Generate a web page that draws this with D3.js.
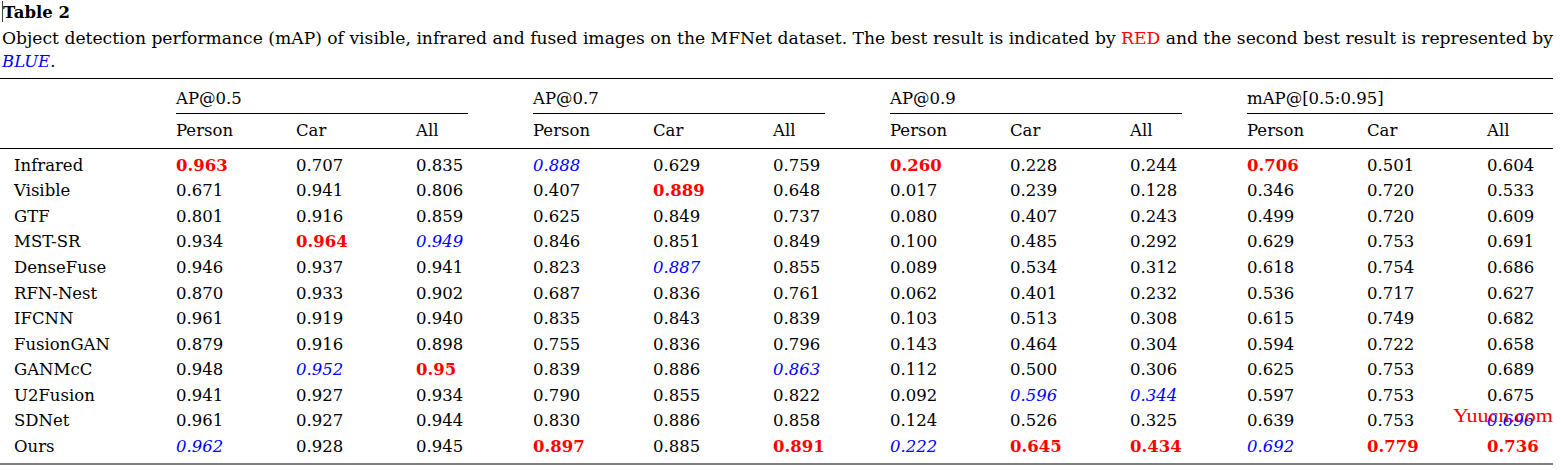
<!DOCTYPE html>
<html>
<head>
<meta charset="utf-8">
<script src="https://cdn.jsdelivr.net/npm/d3@7"></script>
<style>
  body { margin: 0; background: #fff; }
  text { font-family: "DejaVu Serif", serif; }
</style>
</head>
<body>
<div id="chart"></div>
<script>
// table data
var methods = ["Infrared", "Visible", "GTF", "MST-SR", "DenseFuse", "RFN-Nest",
    "IFCNN", "FusionGAN", "GANMcC", "U2Fusion", "SDNet", "Ours"];
var groups = ["AP@0.5", "AP@0.7", "AP@0.9", "mAP@[0.5:0.95]"];
var subCols = ["Person", "Car", "All"];

var ap50 = [
    ["0.963", "0.707", "0.835"], ["0.671", "0.941", "0.806"], ["0.801", "0.916", "0.859"],
    ["0.934", "0.964", "0.949"], ["0.946", "0.937", "0.941"], ["0.870", "0.933", "0.902"],
    ["0.961", "0.919", "0.940"], ["0.879", "0.916", "0.898"], ["0.948", "0.952", "0.95"],
    ["0.941", "0.927", "0.934"], ["0.961", "0.927", "0.944"], ["0.962", "0.928", "0.945"]];
var ap70 = [
    ["0.888", "0.629", "0.759"], ["0.407", "0.889", "0.648"], ["0.625", "0.849", "0.737"],
    ["0.846", "0.851", "0.849"], ["0.823", "0.887", "0.855"], ["0.687", "0.836", "0.761"],
    ["0.835", "0.843", "0.839"], ["0.755", "0.836", "0.796"], ["0.839", "0.886", "0.863"],
    ["0.790", "0.855", "0.822"], ["0.830", "0.886", "0.858"], ["0.897", "0.885", "0.891"]];
var ap90 = [
    ["0.260", "0.228", "0.244"], ["0.017", "0.239", "0.128"], ["0.080", "0.407", "0.243"],
    ["0.100", "0.485", "0.292"], ["0.089", "0.534", "0.312"], ["0.062", "0.401", "0.232"],
    ["0.103", "0.513", "0.308"], ["0.143", "0.464", "0.304"], ["0.112", "0.500", "0.306"],
    ["0.092", "0.596", "0.344"], ["0.124", "0.526", "0.325"], ["0.222", "0.645", "0.434"]];
var mapAll = [
    ["0.706", "0.501", "0.604"], ["0.346", "0.720", "0.533"], ["0.499", "0.720", "0.609"],
    ["0.629", "0.753", "0.691"], ["0.618", "0.754", "0.686"], ["0.536", "0.717", "0.627"],
    ["0.615", "0.749", "0.682"], ["0.594", "0.722", "0.658"], ["0.625", "0.753", "0.689"],
    ["0.597", "0.753", "0.675"], ["0.639", "0.753", "0.696"], ["0.692", "0.779", "0.736"]];

// [group, row, col]
var best = [[0, 0, 0], [0, 3, 1], [0, 8, 2], [1, 1, 1], [1, 11, 0], [1, 11, 2],
    [2, 0, 0], [2, 11, 1], [2, 11, 2], [3, 0, 0], [3, 11, 1], [3, 11, 2]];
var second = [[0, 11, 0], [0, 8, 1], [0, 3, 2], [1, 0, 0], [1, 4, 1], [1, 8, 2],
    [2, 11, 0], [2, 9, 1], [2, 9, 2], [3, 11, 0], [3, 10, 2]];

(function () {
    'use strict';
    var width = 1561,
        height = 470,
        fontSize = 16.5,
        tables = [ap50, ap70, ap90, mapAll],
        svg = d3.select("#chart").append("svg")
            .attr("width", width)
            .attr("height", height);

    var y = d3.scaleBand().domain(methods).range([152.2, 459]),
        gx = d3.scaleBand().domain(groups).range([176, 176 + 4 * 357]),
        sx = d3.scalePoint().domain(subCols).range([0, 240]);

    function key(g, r, c) { return g + "-" + r + "-" + c; }
    var bestSet = new Set(best.map(function (d) { return key(d[0], d[1], d[2]); })),
        secondSet = new Set(second.map(function (d) { return key(d[0], d[1], d[2]); }));

    // text cursor left in the screenshot
    svg.append("line")
        .attr("x1", 2.5).attr("x2", 2.5)
        .attr("y1", 1).attr("y2", 22)
        .style("stroke", "#444")
        .style("stroke-width", 1);

    // title + caption
    svg.append("text")
        .attr("x", 3).attr("y", 18)
        .style("font-size", fontSize + "px")
        .style("font-weight", "bold")
        .text("Table 2");

    var cap = svg.append("text")
        .attr("x", 2).attr("y", 44)
        .attr("textLength", 1551)
        .attr("lengthAdjust", "spacingAndGlyphs")
        .style("font-size", fontSize + "px");
    cap.append("tspan").text("Object detection performance (mAP) of visible, infrared and fused images on the MFNet dataset. The best result is indicated by ");
    cap.append("tspan").style("fill", "#ff0000").text("RED");
    cap.append("tspan").text(" and the second best result is represented by");

    svg.append("text")
        .attr("x", 2).attr("y", 67)
        .style("font-size", fontSize + "px")
        .style("font-style", "italic")
        .style("fill", "#0000ff")
        .text("BLUE")
        .append("tspan").style("fill", "#000").style("font-style", "normal").text(".");

    // rules
    function rule(x1, x2, yy, w) {
        svg.append("line")
            .attr("x1", x1).attr("x2", x2)
            .attr("y1", yy).attr("y2", yy)
            .style("stroke", "#000")
            .style("stroke-width", w);
    }
    rule(0, 1553, 78.5, 1.2);
    rule(0, 1553, 148.5, 1.2);
    rule(0, 1553, 464, 1.2);
    groups.forEach(function (g, i) {
        rule(gx(g), i === groups.length - 1 ? 1553 : gx(g) + 292, 113.5, 1);
    });

    // headers
    var head = svg.selectAll("g.head")
        .data(groups)
        .enter()
        .append("g")
        .attr("transform", function (d) { return "translate(" + gx(d) + ",0)"; });

    head.append("text")
        .attr("y", 104)
        .style("font-size", fontSize + "px")
        .text(function (d) { return d; });

    head.selectAll("text.sub")
        .data(subCols)
        .enter()
        .append("text")
        .attr("x", function (d) { return sx(d); })
        .attr("y", 136)
        .style("font-size", fontSize + "px")
        .text(function (d) { return d; });

    // row labels
    svg.selectAll("text.method")
        .data(methods)
        .enter()
        .append("text")
        .attr("x", 14)
        .attr("y", function (d) { return y(d) + y.bandwidth() / 2; })
        .attr("dy", "0.35em")
        .style("font-size", fontSize + "px")
        .text(function (d) { return d; });

    // cells
    var cells = [];
    tables.forEach(function (t, g) {
        t.forEach(function (row, r) {
            row.forEach(function (v, c) {
                cells.push({g: g, r: r, c: c, v: v});
            });
        });
    });

    svg.selectAll("text.cell")
        .data(cells)
        .enter()
        .append("text")
        .attr("x", function (d) { return gx(groups[d.g]) + sx(subCols[d.c]); })
        .attr("y", function (d) { return y(methods[d.r]) + y.bandwidth() / 2; })
        .attr("dy", "0.35em")
        .style("font-size", fontSize + "px")
        .style("fill", function (d) {
            var k = key(d.g, d.r, d.c);
            if (bestSet.has(k)) { return "#ff0000"; }
            if (secondSet.has(k)) { return "#0000ff"; }
            return "#000";
        })
        .style("font-weight", function (d) {
            return bestSet.has(key(d.g, d.r, d.c)) ? "bold" : "normal";
        })
        .style("font-style", function (d) {
            return secondSet.has(key(d.g, d.r, d.c)) ? "italic" : "normal";
        })
        .text(function (d) { return d.v; });

    // watermark stamped over the table
    svg.append("text")
        .attr("x", 1453).attr("y", 422)
        .attr("textLength", 100)
        .attr("lengthAdjust", "spacingAndGlyphs")
        .style("font-size", "19px")
        .style("fill", "#ff0000")
        .style("font-family", "Liberation Serif, serif")
        .text("Yuucn.com");
}());
</script>
</body>
</html>
